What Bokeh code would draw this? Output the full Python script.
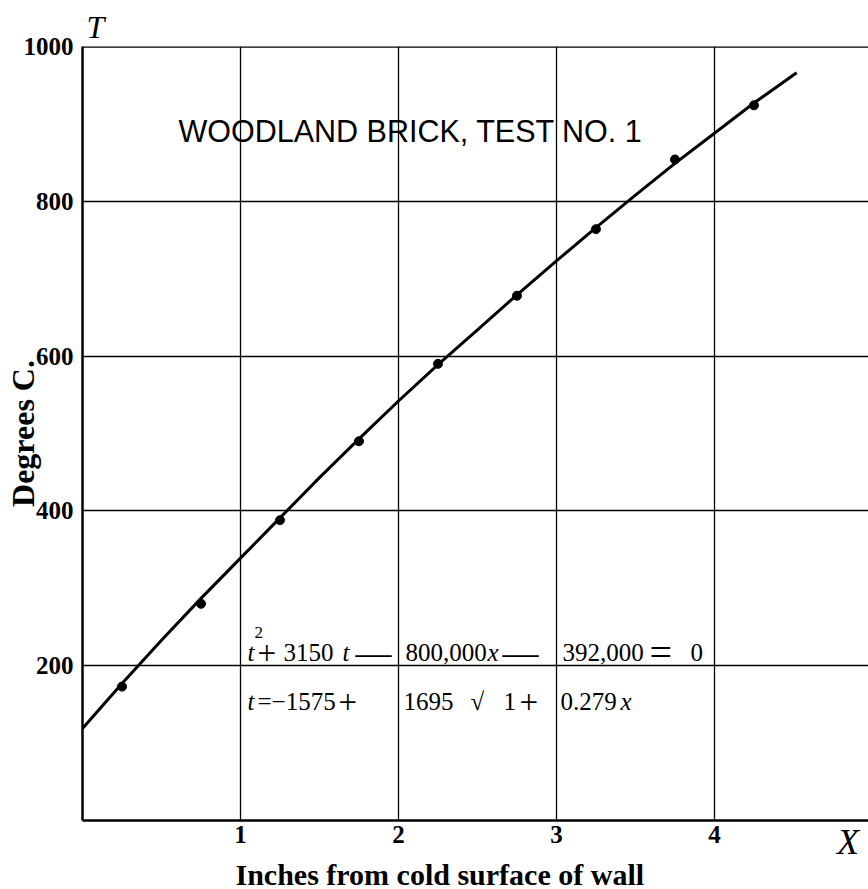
from bokeh.plotting import figure
from bokeh.models import Range1d, FixedTicker, Span, Label, Title
from bokeh.embed import file_html
from bokeh.resources import INLINE

# ---- data ----
x_obs = [0.25, 0.75, 1.25, 1.75, 2.25, 2.75, 3.25, 3.75, 4.25]
t_obs = [173, 280, 388, 490, 590, 678, 764, 854, 924]

x_curve = [0.0, 0.25, 0.5, 0.75, 1.0, 1.25, 1.5, 1.75, 2.0, 2.25, 2.5, 2.75,
           3.0, 3.25, 3.5, 3.75, 4.0, 4.25, 4.52]
t_curve = [119, 177, 233, 287, 339, 391, 443, 493, 542, 589, 634, 679,
           723, 766, 808, 849, 888, 927, 966]

x_ticks = [1, 2, 3, 4]
y_ticks = [200, 400, 600, 800, 1000]
y_grid = [200, 400, 600, 800]

title_text = "WOODLAND BRICK, TEST NO. 1"
x_label = "Inches from cold surface of wall"
y_label = "Degrees C."
x_symbol = "X"
y_symbol = "T"

SERIF = "Liberation Serif"
SANS = "Liberation Sans"
PAD = "\u2003" * 20 + "\u2002" + "\u2009"

p = figure(width=868, height=889, x_range=Range1d(0, 4.975), y_range=Range1d(0, 1000),
           output_backend="svg", toolbar_location=None,
           min_border_left=82, min_border_right=0, min_border_top=46, min_border_bottom=69)
p.background_fill_color = "white"
p.border_fill_color = "white"
p.outline_line_color = None

# axes
for ax in (p.xaxis[0], p.yaxis[0]):
    ax.axis_line_color = "black"
    ax.axis_line_width = 2.5
    ax.major_tick_in = 0
    ax.major_tick_out = 0
    ax.minor_tick_line_color = None
    ax.major_label_text_font = SERIF
    ax.major_label_text_font_size = "25px"
    ax.major_label_text_font_style = "bold"
    ax.major_label_text_color = "black"
p.xaxis.ticker = FixedTicker(ticks=x_ticks)
p.yaxis.ticker = FixedTicker(ticks=y_ticks)
p.xaxis.major_label_standoff = 5
p.yaxis.major_label_standoff = 9

# y axis title
p.yaxis.axis_label = y_label
p.yaxis.axis_label_text_font = SERIF
p.yaxis.axis_label_text_font_size = "32px"
p.yaxis.axis_label_text_font_style = "bold"
p.yaxis.axis_label_text_color = "black"
p.yaxis.axis_label_standoff = -20

# x axis symbol "X" at the right end, on the tick-label row
p.xaxis.axis_label = PAD + x_symbol
p.xaxis.axis_label_text_font = SERIF
p.xaxis.axis_label_text_font_size = "36px"
p.xaxis.axis_label_text_font_style = "italic"
p.xaxis.axis_label_text_color = "black"
p.xaxis.axis_label_standoff = -24

# x axis title
p.add_layout(Title(text=x_label, align="left", offset=153, standoff=-18,
                   text_font=SERIF, text_font_size="30px", text_font_style="bold",
                   text_color="black", vertical_align="bottom"), "below")
# y axis symbol "T" above the axis
p.add_layout(Title(text=y_symbol, align="left", offset=4, standoff=3,
                   text_font=SERIF, text_font_size="32px", text_font_style="italic",
                   text_color="black", vertical_align="bottom"), "above")

p.xgrid.ticker = FixedTicker(ticks=x_ticks)
p.ygrid.ticker = FixedTicker(ticks=y_grid)
for g in (p.xgrid[0], p.ygrid[0]):
    g.grid_line_color = "black"
    g.grid_line_width = 1.3
    g.grid_line_alpha = 1.0

p.add_layout(Span(location=1000, dimension="width", line_color="black", line_width=2.5))

# data marks
p.line(x_curve, t_curve, line_color="black", line_width=3)
p.scatter(x_obs, t_obs, size=9, color="black")


def dx(px):
    return (px - 82) / 158.0


def dy(py):
    return (820 - py) / 0.774


def txt(px, py, s, size=25, font=SERIF, style="normal", align="left", angle=0.0, baseline="alphabetic"):
    p.add_layout(Label(x=dx(px), y=dy(py), text=s, text_font=font, text_font_size=f"{size}px",
                       text_font_style=style, text_color="black", text_align=align,
                       text_baseline=baseline, angle=angle))


# title inside the frame
txt(178, 130, title_text, size=30.5, font=SANS)

# equation line 1
b1 = 652
txt(247, b1, "t", style="italic")
txt(254, 632, "2", size=17)
txt(257, b1, "+", size=33)
txt(283, b1, "3150")
txt(342, b1, "t", style="italic")
txt(355, b1, "\u2014", size=36)
txt(405, b1, "800,000")
txt(487, b1, "x", style="italic")
txt(502, b1, "\u2014", size=36)
txt(562, b1, "392,000")
txt(649, b1, "=", size=40)
txt(690, b1, "0")

# equation line 2
b2 = 701
txt(247, b2, "t", style="italic")
txt(257, b2, "=\u22121575")
txt(338, b2, "+", size=33)
txt(403, b2, "1695")
txt(470, b2, "\u221a", size=25)
txt(503, b2, "1", size=25)
txt(519, b2, "+", size=33)
txt(560, b2, "0.279")
txt(620, b2, "x", style="italic")

open("out.html", "w").write(file_html(p, INLINE))
